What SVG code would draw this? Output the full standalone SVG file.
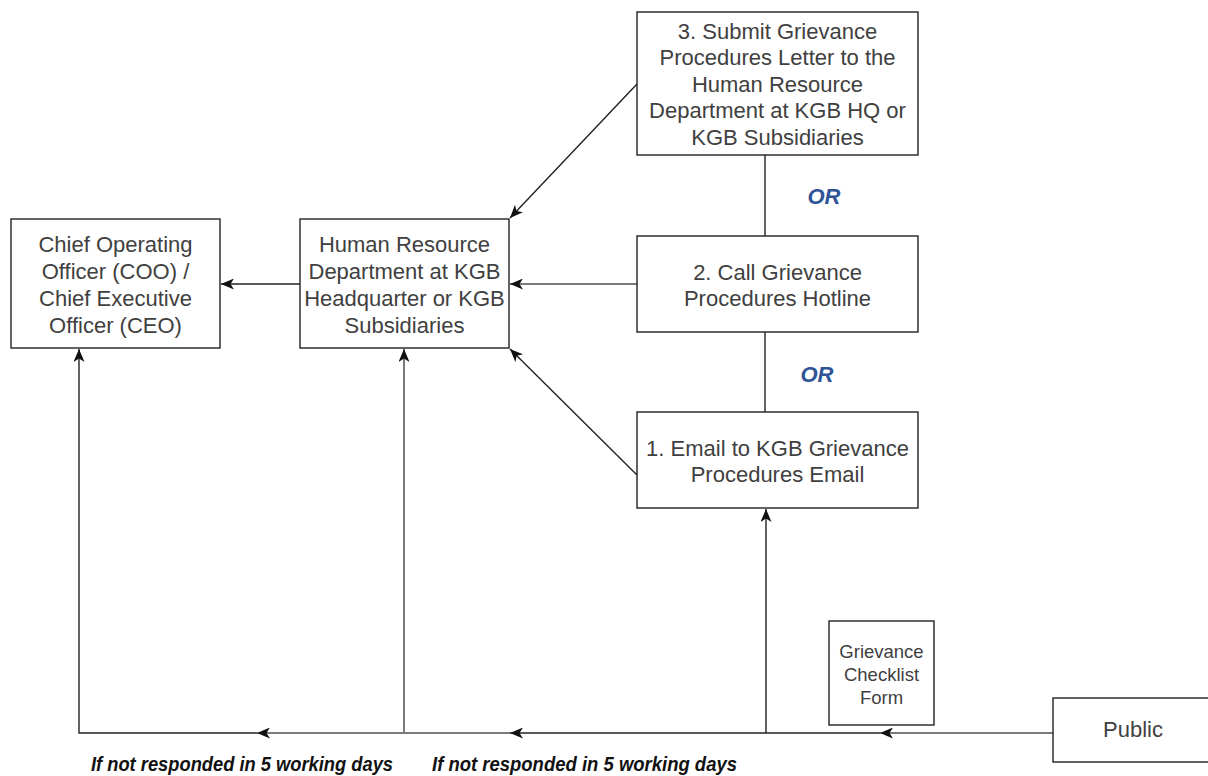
<svg xmlns="http://www.w3.org/2000/svg" width="1208" height="776" viewBox="0 0 1208 776">
<style>
.box{fill:#fff;stroke:#222;stroke-width:1.4}
.t{font-family:"Liberation Sans",Arial,sans-serif;font-size:22px;fill:#404040;text-anchor:middle}
.ts{font-family:"Liberation Sans",Arial,sans-serif;font-size:18.5px;fill:#404040;text-anchor:middle}
.or{font-family:"Liberation Sans",Arial,sans-serif;font-size:22px;font-weight:bold;font-style:italic;fill:#2F5597;text-anchor:middle}
.note{font-family:"Liberation Sans",Arial,sans-serif;font-size:20px;font-weight:bold;font-style:italic;fill:#111}
.dk{fill:none;stroke:#222;stroke-width:1.4}
.gr{fill:none;stroke:#7a7a7a;stroke-width:2}
</style>
<defs>
<marker id="arr" viewBox="0 0 13 11" refX="13" refY="5.5" markerWidth="13" markerHeight="11" markerUnits="userSpaceOnUse" orient="auto">
<path d="M0,0 L13,5.5 L0,11 L3.5,5.5 z" fill="#111"/>
</marker>
</defs>
<g id="connectors">
<path class="dk" d="M300,284 L221,284" marker-end="url(#arr)"/>
<path class="gr" d="M637,284 L510,284" marker-end="url(#arr)"/>
<path class="dk" d="M637,84 L510,218" marker-end="url(#arr)"/>
<path class="dk" d="M637,475 L510,349" marker-end="url(#arr)"/>
<path class="dk" d="M765,155 L765,236"/>
<path class="dk" d="M765,332 L765,412"/>
<path class="gr" d="M1053,733 L880,733" marker-end="url(#arr)"/>
<path class="dk" d="M880,733 L766,733"/>
<path class="dk" d="M766,733 L766,509" marker-end="url(#arr)"/>
<path class="dk" d="M766,733 L510,733" marker-end="url(#arr)"/>
<path class="gr" d="M510,733 L404,733"/>
<path class="gr" d="M404,733 L404,349" marker-end="url(#arr)"/>
<path class="gr" d="M404,733 L257,733" marker-end="url(#arr)"/>
<path class="dk" d="M257,733 L79,733 L79,349" marker-end="url(#arr)"/>
</g>
<g id="coo">
<rect class="box" x="11" y="219" width="209" height="129"/>
<text class="t" x="115.5" y="251.5">Chief Operating</text>
<text class="t" x="115.5" y="278.5">Officer (COO) /</text>
<text class="t" x="115.5" y="305.5">Chief Executive</text>
<text class="t" x="115.5" y="332.5">Officer (CEO)</text>
</g>
<g id="hr">
<rect class="box" x="300" y="219" width="209" height="129"/>
<text class="t" x="404.5" y="251.5">Human Resource</text>
<text class="t" x="404.5" y="278.5">Department at KGB</text>
<text class="t" x="404.5" y="305.5">Headquarter or KGB</text>
<text class="t" x="404.5" y="332.5">Subsidiaries</text>
</g>
<g id="step3">
<rect class="box" x="637" y="12" width="281" height="143"/>
<text class="t" x="777.5" y="38.5">3. Submit Grievance</text>
<text class="t" x="777.5" y="65">Procedures Letter to the</text>
<text class="t" x="777.5" y="91.5">Human Resource</text>
<text class="t" x="777.5" y="118">Department at KGB HQ or</text>
<text class="t" x="777.5" y="144.5">KGB Subsidiaries</text>
</g>
<g id="step2">
<rect class="box" x="637" y="236" width="281" height="96"/>
<text class="t" x="777.5" y="279.5">2. Call Grievance</text>
<text class="t" x="777.5" y="306">Procedures Hotline</text>
</g>
<g id="step1">
<rect class="box" x="637" y="412" width="281" height="96"/>
<text class="t" x="777.5" y="455.5">1. Email to KGB Grievance</text>
<text class="t" x="777.5" y="482">Procedures Email</text>
</g>
<g id="or-labels">
<text class="or" x="824" y="204">OR</text>
<text class="or" x="817" y="382">OR</text>
</g>
<g id="checklist">
<rect class="box" x="829" y="621" width="105" height="104"/>
<text class="ts" x="881.5" y="658">Grievance</text>
<text class="ts" x="881.5" y="681">Checklist</text>
<text class="ts" x="881.5" y="704">Form</text>
</g>
<g id="public">
<rect class="box" x="1053" y="698" width="162" height="64"/>
<text class="t" x="1133" y="737">Public</text>
</g>
<g id="notes">
<text class="note" x="91" y="771" textLength="302" lengthAdjust="spacingAndGlyphs">If not responded in 5 working days</text>
<text class="note" x="432" y="771" textLength="305" lengthAdjust="spacingAndGlyphs">If not responded in 5 working days</text>
</g>
</svg>
